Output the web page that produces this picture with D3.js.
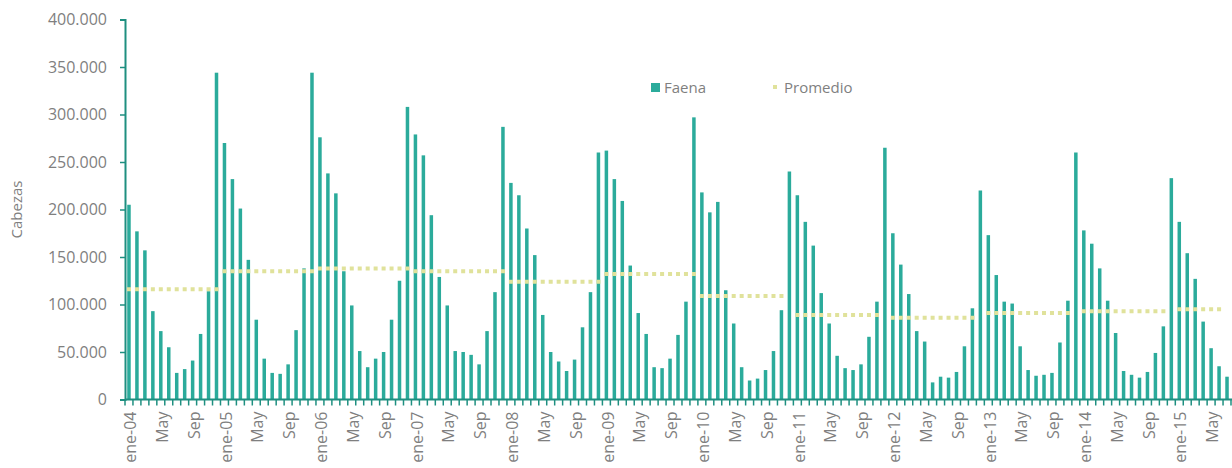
<!DOCTYPE html>
<html>
<head>
<meta charset="utf-8">
<script src="https://cdn.jsdelivr.net/npm/d3@7"></script>
<style>
  body { margin: 0; background: #fff; }
  text { font-family: "Open Sans", "Noto Sans", sans-serif; fill: #7f7f7f; }
</style>
</head>
<body>
<div id="chart"></div>
<script>
// Faena mensual (cabezas), ene-04 .. jul-15
const years = ['04','05','06','07','08','09','10','11','12','13','14','15'];
const monthNames = ['ene','Feb','Mar','Abr','May','Jun','Jul','Ago','Sep','Oct','Nov','Dic'];

const faena = [
  205000,177000,157000, 93000, 72000, 55000, 28000, 32000, 41000, 69000,114000,344000, // 2004
  270000,232000,201000,147000, 84000, 43000, 28000, 27000, 37000, 73000,138000,344000, // 2005
  276000,238000,217000,135000, 99000, 51000, 34000, 43000, 50000, 84000,125000,308000, // 2006
  279000,257000,194000,129000, 99000, 51000, 50000, 47000, 37000, 72000,113000,287000, // 2007
  228000,215000,180000,152000, 89000, 50000, 40000, 30000, 42000, 76000,113000,260000, // 2008
  262000,232000,209000,141000, 91000, 69000, 34000, 33000, 43000, 68000,103000,297000, // 2009
  218000,197000,208000,115000, 80000, 34000, 20000, 22000, 31000, 51000, 94000,240000, // 2010
  215000,187000,162000,112000, 80000, 46000, 33000, 31000, 37000, 66000,103000,265000, // 2011
  175000,142000,111000, 72000, 61000, 18000, 24000, 23000, 29000, 56000, 96000,220000, // 2012
  173000,131000,103000,101000, 56000, 31000, 25000, 26000, 28000, 60000,104000,260000, // 2013
  178000,164000,138000,104000, 70000, 30000, 26000, 23000, 29000, 49000, 77000,233000, // 2014
  187000,154000,127000, 82000, 54000, 35000, 24000                                       // 2015
];

// promedio anual por año
const promedioAnual = [116000,135000,138000,135000,124000,132000,109000,89000,86000,91000,93000,95000];

const yTicks = [0,50000,100000,150000,200000,250000,300000,350000,400000];

const W = 1232, H = 468;
const margin = { left: 125, right: 1, top: 19.5, bottom: 68.5 };

const months = faena.map((v, i) => {
  const m = i % 12, yr = Math.floor(i / 12);
  let label = '';
  if (m === 0) label = monthNames[0] + '-' + years[yr];
  else if (m === 4 || m === 8) label = monthNames[m];
  return { i, v, yr, label, prom: promedioAnual[yr] };
});

const svg = d3.select('#chart').append('svg')
  .attr('width', W).attr('height', H);

const x = d3.scaleBand()
  .domain(months.map(d => d.i))
  .range([margin.left, W - margin.right])
  .paddingInner(0.56).paddingOuter(0.28);

const y = d3.scaleLinear()
  .domain([0, 400000])
  .range([H - margin.bottom, margin.top]);

const loc = d3.formatLocale({ decimal: ',', thousands: '.', grouping: [3], currency: ['', ''] });
const fmt = loc.format(',');

const axisColor = '#1f8f80';
const step = x.step();

// bars
svg.append('g').selectAll('rect').data(months).join('rect')
  .attr('x', d => x(d.i))
  .attr('width', x.bandwidth())
  .attr('y', d => y(d.v))
  .attr('height', d => y(0) - y(d.v))
  .attr('fill', '#2bab9b');

// promedio: one dotted segment per year
const line = d3.line()
  .x(d => x(d.i) + x.bandwidth() / 2)
  .y(d => y(d.prom));

svg.append('g').selectAll('path')
  .data(d3.groups(months, d => d.yr).map(g => g[1]))
  .join('path')
  .attr('d', line)
  .attr('fill', 'none')
  .attr('stroke', '#e0e29b')
  .attr('stroke-width', 4)
  .attr('stroke-linecap', 'square')
  .attr('stroke-dasharray', `0.01,${step - 0.01}`);

// y axis
const yAxis = svg.append('g')
  .attr('transform', `translate(${margin.left},0)`)
  .call(d3.axisLeft(y).tickValues(yTicks).tickFormat(fmt).tickSize(5).tickPadding(13));
yAxis.select('.domain').attr('stroke', axisColor).attr('stroke-width', 2);
yAxis.selectAll('.tick line').attr('stroke', axisColor).attr('stroke-width', 1.5);
yAxis.selectAll('.tick text').attr('font-size', 16).attr('fill', '#7f7f7f');

svg.append('text')
  .attr('transform', `translate(22,${(y(0) + y(400000)) / 2}) rotate(-90)`)
  .attr('text-anchor', 'middle')
  .attr('font-size', 15)
  .text('Cabezas');

// x axis
const gx = svg.append('g');
gx.append('line')
  .attr('x1', margin.left).attr('x2', W)
  .attr('y1', y(0)).attr('y2', y(0))
  .attr('stroke', axisColor).attr('stroke-width', 2);

gx.selectAll('line.tk').data(d3.range(months.length + 1)).join('line')
  .attr('class', 'tk')
  .attr('x1', i => margin.left + i * step).attr('x2', i => margin.left + i * step)
  .attr('y1', y(0)).attr('y2', y(0) + 6)
  .attr('stroke', axisColor).attr('stroke-width', 1.5);

gx.selectAll('text').data(months.filter(d => d.label)).join('text')
  .attr('transform', d => `translate(${x(d.i) + x.bandwidth() / 2},${y(0) + 12}) rotate(-90)`)
  .attr('text-anchor', 'end')
  .attr('dy', '0.45em')
  .attr('font-size', 16)
  .text(d => d.label);

// legend
const lg = svg.append('g');
lg.append('rect').attr('x', 651).attr('y', 83).attr('width', 9).attr('height', 9).attr('fill', '#2bab9b');
lg.append('text').attr('x', 664).attr('y', 87.5).attr('dy', '0.35em').attr('font-size', 15).text('Faena');
lg.append('rect').attr('x', 773).attr('y', 85).attr('width', 4).attr('height', 4).attr('fill', '#e0e29b');
lg.append('text').attr('x', 784).attr('y', 87.5).attr('dy', '0.35em').attr('font-size', 15).text('Promedio');
</script>
</body>
</html>
